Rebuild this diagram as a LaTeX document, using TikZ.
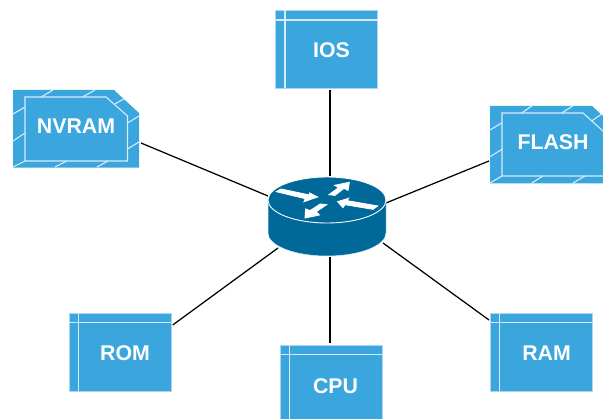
\documentclass[tikz,border=0pt]{standalone}
\usepackage{fontspec}
\setmainfont{Liberation Sans}
\definecolor{boxblue}{HTML}{3BA5DE}
\definecolor{paleline}{HTML}{D6EDF9}
\definecolor{routerblue}{HTML}{00699A}
\tikzset{
  cardbox/.style={rectangle,fill=boxblue,draw=paleline!70!boxblue,line width=0.4pt,minimum width=102pt,minimum height=78pt,inner sep=0pt,outer sep=0pt},
  chipfill/.style={fill=boxblue},
  inner line/.style={draw=paleline,line width=1.2pt},
  inner thin/.style={draw=paleline,line width=1.1pt},
  caption/.style={text=white,font=\bfseries\fontsize{21.3}{24}\selectfont,inner sep=0pt},
  link/.style={draw=black,line width=1.25pt},
  flow/.style={fill=white,draw=white,line width=0.9pt,line join=miter}
}
\begin{document}
\begin{tikzpicture}[x=1pt,y=-1pt]
\useasboundingbox (0,0) rectangle (603,419);
% anchors of the picture
\node[minimum width=118pt,minimum height=81pt,inner sep=0pt,outer sep=0pt] (router) at (327,216.5) {};
\node[minimum width=126pt,minimum height=78pt,inner sep=0pt,outer sep=0pt] (nvram) at (76,129) {};
\node[minimum width=113pt,minimum height=78pt,inner sep=0pt,outer sep=0pt] (flash) at (546.5,145) {};
% connectors
\node[cardbox] (ios) at (326.5,49.5) {};
\node[cardbox] (rom) at (119.7,352) {};
\node[cardbox] (ram) at (541,352) {};
\node[cardbox] (cpu) at (331,384) {};
\draw[link] ([xshift=3.5pt,yshift=-2pt]ios.south) -- ([xshift=3pt]router.north);
\draw[link] ([xshift=3pt]router.south) -- ([xshift=-1pt,yshift=2pt]cpu.north);
\draw[link] ([xshift=2pt,yshift=-14pt]nvram.east) -- ([yshift=20.5pt]router.west);
\draw[link] ([xshift=-1pt,yshift=-16pt]flash.west) -- ([yshift=13.5pt]router.east);
\draw[link] ([xshift=2pt,yshift=27pt]rom.east) -- ([xshift=10pt,yshift=-31.5pt]router.west);
\draw[link] ([xshift=-1pt,yshift=32pt]ram.west) -- ([xshift=-3pt,yshift=-26.5pt]router.east);
% plain cards
\foreach \n/\cx/\cy in {ios/326.5/49.5,rom/119.7/352,ram/541/352,cpu/331/384}{
  \draw[inner line] (\cx-51+9.5,\cy-39) -- (\cx-51+9.5,\cy+39);
  \draw[inner line] (\cx-51,\cy-39+9.5) -- (\cx+51,\cy-39+9.5);
}
\node[caption] at (331.5,50.5) {IOS};
\node[caption] at (125,353.5) {ROM};
\node[caption] at (546.5,353.5) {RAM};
\node[caption] at (335.5,386) {CPU};
% NVRAM
\fill[chipfill] (13,90) -- (114,90) -- (139,113) -- (139,167.7) -- (13,167.7) -- cycle;
\draw[inner thin] (25,97) -- (106,97) -- (127.5,116) -- (127.5,161) -- (25,161) -- cycle;
\foreach \a/\b/\c/\d in {41.7/96.7/53/90,83/96.7/95/90,115/104/124.5/98.5,127.5/123/139/116,127.5/149/139/142,13/167/25/161,55/167/66.7/161,97/167/108/161,13/114/25/107,13/141/25/133}
  \draw[inner thin] (\a,\b) -- (\c,\d);
\node[caption] at (76,126) {NVRAM};
% FLASH
\fill[chipfill] (490,106) -- (592,106) -- (603,116) -- (603,183.5) -- (490,183.5) -- cycle;
\draw[inner thin] (603,131) -- (583,113) -- (502,113) -- (502,176) -- (603,176);
\foreach \a/\b/\c/\d in {521.7/113/531.7/106,561.7/113/572.7/106,591.7/121/601.7/114,490/130/502/122.7,490/156.7/502/149.3,490/183/502/176,531.7/183/543/176,573/183/585/176}
  \draw[inner thin] (\a,\b) -- (\c,\d);
\node[caption] at (553,141.7) {FLASH};
% router
\path[fill=routerblue,draw=paleline,line width=0.5pt] (268,200) -- (268,233) arc[start angle=180,end angle=360,x radius=59pt,y radius=23pt] -- (386,200) arc[start angle=0,end angle=180,x radius=59pt,y radius=23pt] -- cycle;
\draw[draw=white,line width=0.9pt,fill=routerblue] (327,200) ellipse[x radius=59pt,y radius=23pt];
\begin{scope}[shift={(270,175)},x=0.3333pt,y=-0.3333pt]
\filldraw[flow] (19,50) -- (33,42) -- (118,60) -- (119,54) -- (143,66) -- (102,80) -- (106,71) -- cycle;
\filldraw[flow] (177,59) -- (206,38) -- (194,31) -- (238,22) -- (234,46) -- (222,40) -- (195,61) -- cycle;
\filldraw[flow] (151,87) -- (170,89) -- (139,110) -- (148,120) -- (105,129) -- (107,102) -- (120,107) -- cycle;
\filldraw[flow] (203,80) -- (236,70) -- (231,77) -- (323,93) -- (309,103) -- (225,89) -- (219,98) -- cycle;
\end{scope}
\end{tikzpicture}
\end{document}
